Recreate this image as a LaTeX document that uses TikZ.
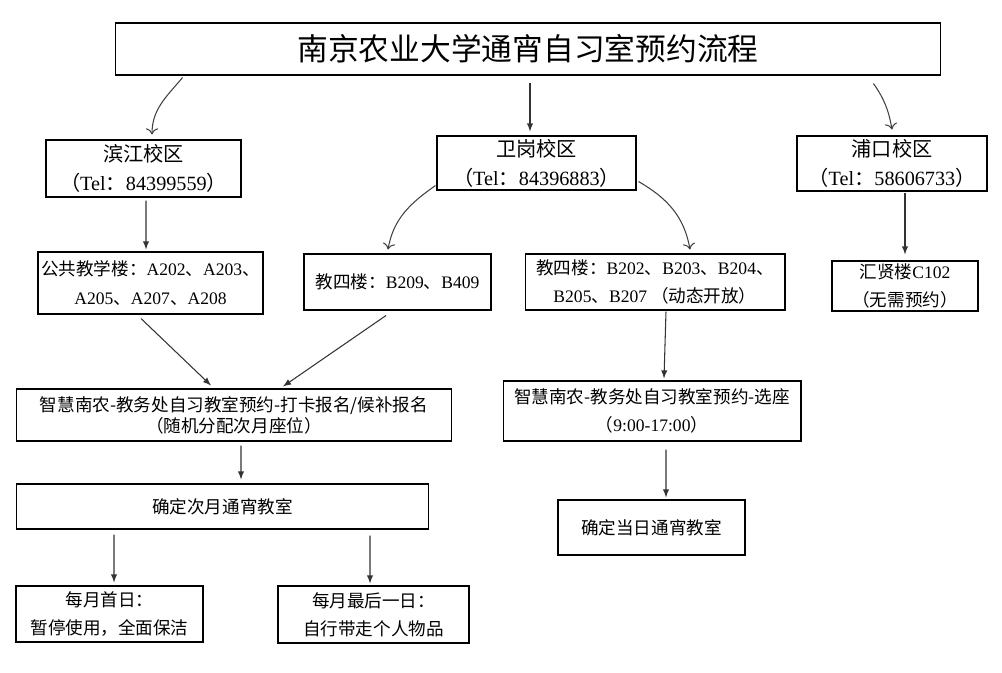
\documentclass[tikz,border=0pt]{standalone}
\usepackage{fontspec}
\setmainfont{Noto Sans CJK SC}
\newfontfamily\lat{Liberation Serif}
\usetikzlibrary{calc,arrows.meta}

\begin{document}
\begin{tikzpicture}[x=0.02cm, y=0.02cm,
        box/.style={draw, line width=0.6pt, align=center, inner sep=0pt},
        small/.style={font=\fontsize{10}{16}\selectfont},
        campus/.style={font=\fontsize{11.5}{16.5}\selectfont},
        link/.style={->, >=latex, line width=0.6pt, draw=black!80},
        bend link/.style={->, >={To[length=3.5pt,width=7pt]}, line width=0.6pt, draw=black!75}
        ]
        \useasboundingbox (0,0) rectangle (1002,-673);
        % title and campuses
        \node [box, name=title, minimum width=16.52cm, minimum height=1.04cm,
               font=\fontsize{17.5}{20}\selectfont] at (528,-49) {南京农业大学通宵自习室预约流程};
        \node [box, campus, name=bj, minimum width=3.9cm, minimum height=1.14cm] at (143.5,-168.5)
              {滨江校区\\（{\lat Tel}：{\lat 84399559}）};
        \node [box, campus, name=wg, minimum width=3.98cm, minimum height=1.08cm] at (536.5,-163)
              {卫岗校区\\（{\lat Tel}：{\lat 84396883}）};
        \node [box, campus, name=pk, minimum width=3.8cm, minimum height=1.1cm] at (892,-163.5)
              {浦口校区\\（{\lat Tel}：{\lat 58606733}）};
        % buildings
        \node [box, small, name=bjbld, minimum width=4.5cm, minimum height=1.24cm] at (150.5,-283)
              {公共教学楼：{\lat A202}、{\lat A203}、\\{\lat A205}、{\lat A207}、{\lat A208}};
        \node [box, small, name=wga, minimum width=3.74cm, minimum height=1.12cm] at (397.5,-282)
              {教四楼：{\lat B209}、{\lat B409}};
        \node [box, small, name=wgb, minimum width=5.2cm, minimum height=1.12cm] at (655,-282)
              {教四楼：{\lat B202}、{\lat B203}、{\lat B204}、\\{\lat B205}、{\lat B207} （动态开放）};
        \node [box, small, name=pkbld, minimum width=2.92cm, minimum height=1cm] at (905,-286)
              {汇贤楼{\lat C102}\\（无需预约）};
        % booking
        \node [box, name=regl, minimum width=8.72cm, minimum height=1.04cm,
               font=\fontsize{10}{12}\selectfont] at (234,-415)
              {智慧南农-教务处自习教室预约-打卡报名/候补报名\\（随机分配次月座位）};
        \node [box, small, name=regr, minimum width=5.96cm, minimum height=1.2cm] at (652,-411)
              {智慧南农-教务处自习教室预约-选座\\（{\lat 9:00-17:00}）};
        \node [box, small, name=fixl, minimum width=8.26cm, minimum height=0.9cm] at (222.5,-506.5)
              {确定次月通宵教室};
        \node [box, small, name=fixr, minimum width=3.74cm, minimum height=1.1cm] at (651.5,-527.5)
              {确定当日通宵教室};
        \node [box, small, name=first, minimum width=3.74cm, minimum height=1.12cm] at (109.5,-614)
              {每月首日：\\暂停使用，全面保洁};
        \node [box, small, name=last, minimum width=3.82cm, minimum height=1.14cm] at (373.5,-614.5)
              {每月最后一日：\\自行带走个人物品};
        % connectors
        \draw [bend link] ($(title.south west)+(68,-2)$) to[out=-130, in=90] ($(bj.north)+(8.5,5)$);
        \draw [link] ($(title.south)+(2,-7)$) -- ($(wg.north)+(-6.5,4)$);
        \draw [bend link] ($(title.south east)+(-68,-8)$) to[out=-55, in=100] ($(pk.north)+(0,6)$);
        \draw [link] ($(bj.south)+(2.5,-3)$) -- ($(bjbld.north)+(-4.5,2)$);
        \draw [bend link] ($(wg.south west)+(-1,5)$) to[out=-145, in=80] ($(wga.north)+(-9.5,4)$);
        \draw [bend link] ($(wg.south east)+(2,9)$) to[out=-30, in=100] ($(wgb.north)+(35,4)$);
        \draw [link] ($(pk.south)+(13,-1)$) -- ($(pkbld.north)+(0,6)$);
        \draw [link] ($(bjbld.south)+(-9.5,-4)$) -- ($(regl.north)+(-23,3)$);
        \draw [link] ($(wga.south)+(-11.5,-5)$) -- ($(regl.north)+(49,2)$);
        \draw [link] ($(wgb.south)+(11,-1)$) -- ($(regr.north)+(12,2)$);
        \draw [link] ($(regl.south)+(7,-4)$) -- ($(fixl.north)+(18.5,4)$);
        \draw [link] ($(regr.south)+(14,-8)$) -- ($(fixr.north)+(14.5,2)$);
        \draw [link] ($(fixl.south)+(-108.5,-5)$) -- ($(first.north)+(4.5,3)$);
        \draw [link] ($(fixl.south)+(147.5,-6)$) -- ($(last.north)+(-3.5,2)$);
\end{tikzpicture}
\end{document}
